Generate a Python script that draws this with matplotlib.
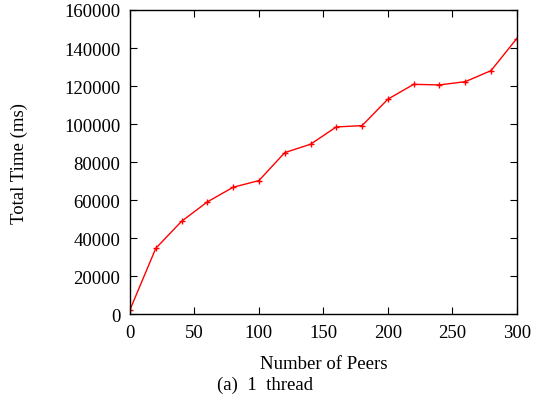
import matplotlib
matplotlib.use("Agg")
import matplotlib.pyplot as plt

# data
peers = [0, 20, 40, 60, 80, 100, 120, 140, 160, 180, 200, 220, 240, 260, 280, 300]
total_ms = [2400, 34700, 48900, 59100, 66800, 70300, 85000, 89400, 98500, 99200,
            113100, 120900, 120600, 122300, 128100, 145000]

x_ticks = [0, 50, 100, 150, 200, 250, 300]
y_ticks = [0, 20000, 40000, 60000, 80000, 100000, 120000, 140000, 160000]

plt.rcParams["font.family"] = ["Liberation Serif", "DejaVu Serif"]
plt.rcParams["font.size"] = 13.5

fig = plt.figure(figsize=(5.35, 4.02), dpi=100)
ax = fig.add_axes([0.243, 0.2157, 0.723, 0.757])

ax.plot(peers, total_ms, "-", color="red", linewidth=1.0,
        marker="+", markersize=5, markeredgewidth=1.0)

ax.set_xlim(0, 300)
ax.set_ylim(0, 160000)
ax.set_xticks(x_ticks)
ax.set_yticks(y_ticks)
ax.tick_params(direction="in", top=True, right=True, length=5, width=0.8, pad=7)
for s in ax.spines.values():
    s.set_linewidth(1.0)

ax.set_xlabel("Number of Peers", labelpad=10)
ax.set_ylabel("Total Time (ms)", labelpad=26)
fig.text(0.495, 0.042, "(a)  1  thread", ha="center", va="center")

fig.savefig("out.png", dpi=100)
